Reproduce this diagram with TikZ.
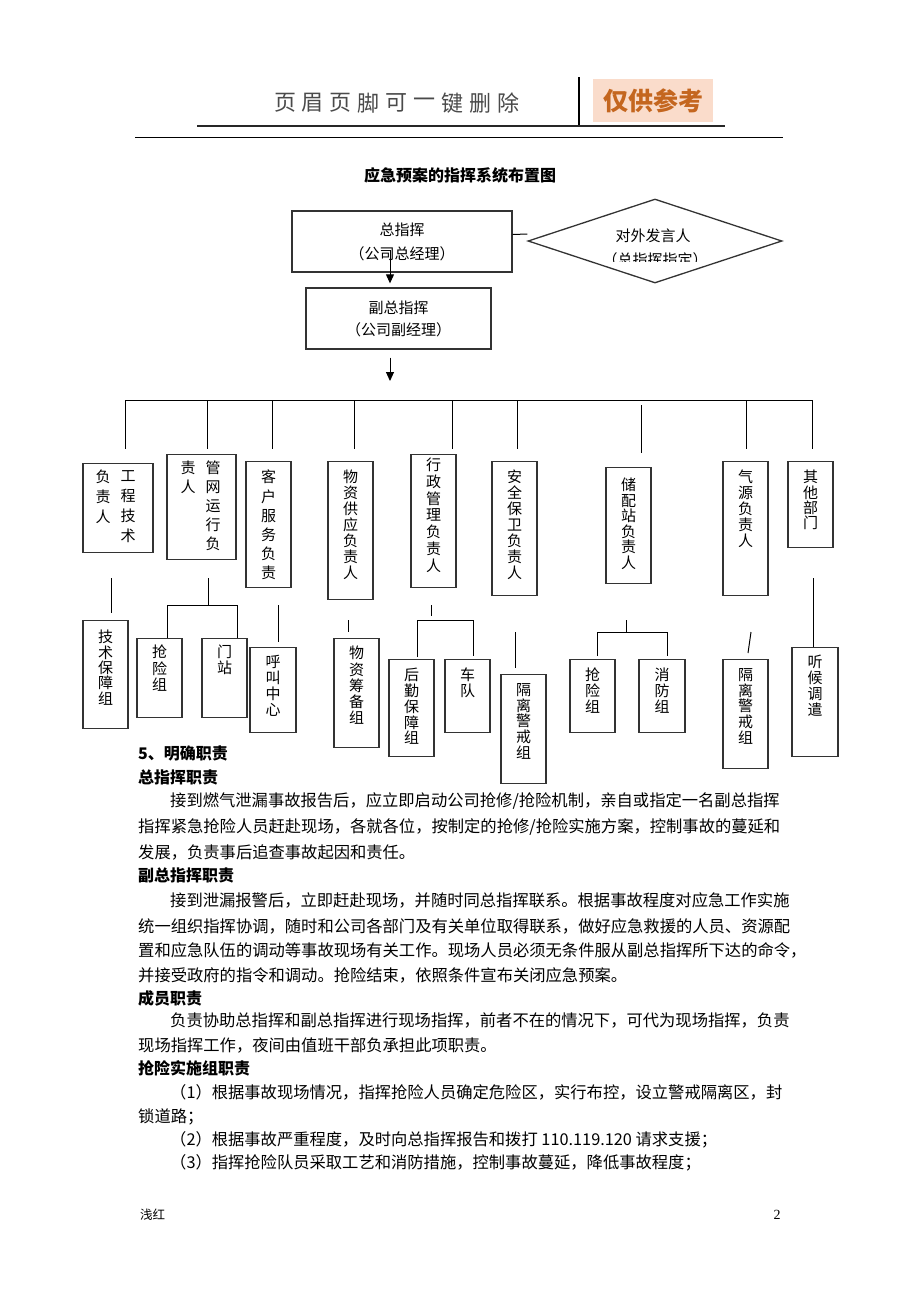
\documentclass[tikz,border=0pt]{standalone}
\usepackage{fontspec}
\setmainfont{Liberation Serif}
\newfontfamily\cjk{Noto Sans CJK SC}
\usetikzlibrary{positioning,shapes.geometric,arrows.meta}
\definecolor{tagbg}{HTML}{FADCCB}
\definecolor{tagfg}{HTML}{C4661F}
\definecolor{hdrgray}{HTML}{4A4A4A}

\begin{document}
\begin{tikzpicture}[x=1pt,y=-1pt,
	box/.style={draw=black!80, line width=1.3pt, inner sep=0pt, minimum width=45pt, anchor=north},
	vtxt/.style={anchor=north, inner sep=0pt, align=center, font=\cjk\fontsize{15}{#1}\selectfont},
	vtxt/.default=16,
	mainbox/.style={draw=black!80, line width=1.3pt, align=center, font=\cjk\fontsize{15}{#1}\selectfont},
	mainbox/.default=24,
	para/.style={anchor=west, inner sep=0pt, font=\cjk\fontsize{16.3}{16.3}\selectfont},
	head/.style={para, font=\cjk\bfseries\fontsize{16}{16}\selectfont},
	conn/.style={line width=1pt},
	arr/.style={line width=1pt, -{Triangle[width=8pt,length=9pt]}}]
	
	\fill[white] (0,0) rectangle (920,1302);
	\useasboundingbox (0,0) rectangle (920,1302);
	
	% page header
	\foreach \c [count=\i from 0] in {页,眉,页,脚,可,一,键,删,除}
	\node[text=hdrgray, font=\cjk\fontsize{22}{22}\selectfont, inner sep=0pt] (hd\i) at (285+27.9*\i,103) {\c};
	\draw[line width=2pt] (579,77) -- (579,125);
	\draw[line width=2.5pt, black!85] (197,126) -- (725,126);
	\node[fill=tagbg, minimum width=120pt, minimum height=43pt, inner sep=0pt,
	text=tagfg, font=\cjk\bfseries\fontsize{25}{25}\selectfont] (tag) at (653,100.5) {仅供参考};
	\draw[line width=0.8pt] (135,137.5) -- (783,137.5);
	
	\node[font=\cjk\bfseries\fontsize{16}{16}\selectfont, inner sep=0pt] (ttl) at (460,175) {应急预案的指挥系统布置图};
	
	% command
	\node[mainbox, minimum width=220pt, minimum height=61pt] (top) at (402,241.5) {总指挥\\（公司总经理）};
	\node[draw=black!80, line width=1.3pt, diamond, minimum width=254pt, minimum height=84pt, inner sep=0pt] (spk) at (655,241) {};
	\node[font=\cjk\fontsize{15}{15}\selectfont, inner sep=0pt] (spk-a) at (653,236) {对外发言人};
	\begin{scope}
		\clip (560,225) rectangle (750,261);
		\node[font=\cjk\fontsize{15}{15}\selectfont, inner sep=0pt] (spk-b) at (655,260) {（总指挥指定）};
	\end{scope}
	\draw[conn] ([yshift=7pt]top.east) -- ([yshift=7pt]spk.west);
	
	\node[mainbox=22, minimum width=185pt, minimum height=61pt] (dep) at (398.5,318.5) {副总指挥\\（公司副经理）};
	\draw[arr, shorten >=4pt] (390,250) -- (390,250 |- dep.north);
	\coordinate (hub) at (390,381);
	\draw[arr] (hub |- dep.south) ++(0,8) -- (hub);
	
	% bus
	\coordinate (busL) at (125,400);
	\coordinate (busR) at (812,400);
	\draw[conn] (busL) -- (busR);
	\foreach \x in {125,207,272,354,452,517,746,812}
	\draw[conn] (\x,400) -- (\x,449);
	\draw[conn] (641,405) -- (641,453);
	
	% first row
	\node[box, minimum width=70pt, minimum height=89pt] (gc) at (118,463) {};
	\node[vtxt=20] (gc-r) at ([xshift=10pt, yshift=-7pt]gc.north) {工\\程\\技\\术};
	\node[vtxt=20] (gc-l) at ([xshift=-15pt, yshift=-7pt]gc.north) {负\\责\\人};
	
	\node[box, minimum width=69pt, minimum height=105pt] (gw) at (201.5,454) {};
	\node[vtxt=19] (gw-r) at ([xshift=11.5pt, yshift=-7pt]gw.north) {管\\网\\运\\行\\负};
	\node[vtxt=19] (gw-l) at ([xshift=-13.5pt, yshift=-7pt]gw.north) {责\\人};
	
	\node[box, minimum height=126pt] (kf) at (268.5,461) {};
	\node[vtxt=19.2, below=9pt of kf.north] (kf-t) {客\\户\\服\\务\\负\\责};
	
	\node[box, minimum height=138pt] (wz) at (350.5,461) {};
	\node[vtxt, below=9pt of wz.north] (wz-t) {物\\资\\供\\应\\负\\责\\人};
	
	\node[box, minimum height=133pt] (xz) at (433.5,454) {};
	\node[vtxt=16.7, below=4pt of xz.north] (xz-t) {行\\政\\管\\理\\负\\责\\人};
	
	\node[box, minimum height=134pt] (aq) at (514.5,461) {};
	\node[vtxt, below=9pt of aq.north] (aq-t) {安\\全\\保\\卫\\负\\责\\人};
	
	\node[box, minimum height=116pt] (cp) at (628.5,467) {};
	\node[vtxt=15.5, below=11pt of cp.north] (cp-t) {储\\配\\站\\负\\责\\人};
	
	\node[box, minimum height=134pt] (qy) at (745.5,461) {};
	\node[vtxt=15.8, below=9pt of qy.north] (qy-t) {气\\源\\负\\责\\人};
	
	\node[box, minimum height=86pt] (qt) at (810.5,461) {};
	\node[vtxt=15.4, below=9pt of qt.north] (qt-t) {其\\他\\部\\门};
	
	% second row
	\node[box, minimum height=108pt] (js) at (105.5,620) {};
	\node[vtxt=15.3, below=10pt of js.north] (js-t) {技\\术\\保\\障\\组};
	
	\node[box, minimum height=79pt] (qx1) at (159.5,638) {};
	\node[vtxt=16.5, below=7pt of qx1.north] (qx1-t) {抢\\险\\组};
	
	\node[box, minimum height=79pt] (mz) at (224.5,638) {};
	\node[vtxt, below=7pt of mz.north] (mz-t) {门\\站};
	
	\node[box, minimum width=46pt, minimum height=85pt] (hj) at (273,647) {};
	\node[vtxt, below=8pt of hj.north] (hj-t) {呼\\叫\\中\\心};
	
	\node[box, minimum height=109pt] (wc) at (356.5,638) {};
	\node[vtxt=16.2, below=8pt of wc.north] (wc-t) {物\\资\\筹\\备\\组};
	
	\node[box, minimum height=97pt] (hq) at (411.5,659) {};
	\node[vtxt=15.8, below=9pt of hq.north] (hq-t) {后\\勤\\保\\障\\组};
	
	\node[box, minimum height=73pt] (cd) at (467.5,659) {};
	\node[vtxt, below=9pt of cd.north] (cd-t) {车\\队};
	
	\node[box, minimum height=109pt] (gl1) at (523.5,674) {};
	\node[vtxt=15.8, below=9pt of gl1.north] (gl1-t) {隔\\离\\警\\戒\\组};
	
	\node[box, minimum height=73pt] (qx2) at (592.5,659) {};
	\node[vtxt, below=9pt of qx2.north] (qx2-t) {抢\\险\\组};
	
	\node[box, minimum width=46pt, minimum height=73pt] (xf) at (662,659) {};
	\node[vtxt, below=9pt of xf.north] (xf-t) {消\\防\\组};
	
	\node[box, minimum height=109pt] (gl2) at (745.5,659) {};
	\node[vtxt=15.8, below=9pt of gl2.north] (gl2-t) {隔\\离\\警\\戒\\组};
	
	\node[box, minimum width=46pt, minimum height=109pt] (th) at (815,647) {};
	\node[vtxt, below=8pt of th.north] (th-t) {听\\候\\调\\遣};
	
	% second row links
	\draw[conn] (111,578) -- (111,613);
	\draw[conn] (208,578) -- (208,605);
	\draw[conn] (167,605 |- qx1.north) -- (167,605) -- (237,605) -- (237,605 |- mz.north);
	\draw[conn] (278,605) -- (278,642);
	\draw[conn] (348,620) -- (348,632);
	\draw[conn] (431,605) -- (431,616);
	\draw[conn] (417,657) -- (417,620) -- (473,620) -- (473,656);
	\draw[conn] (515,632) -- (515,668);
	\draw[conn] (626,620) -- (626,632);
	\draw[conn] (597,656) -- (597,632) -- (667,632) -- (667,656);
	\draw[conn] (751,632) -- (748,653);
	\draw[conn] (813,578) -- (813,578 |- th.north);
	
	% duties text
	\node[head] (s5) at (138,753) {5、明确职责};
	\node[head] (h1) at (138,777) {总指挥职责};
	\node[para] (p1) at (170,801) {接到燃气泄漏事故报告后，应立即启动公司抢修/抢险机制，亲自或指定一名副总指挥};
	\node[para] (p2) at (138,827) {指挥紧急抢险人员赶赴现场，各就各位，按制定的抢修/抢险实施方案，控制事故的蔓延和};
	\node[para] (p3) at (138,852) {发展，负责事后追查事故起因和责任。};
	\node[head] (h2) at (138,875) {副总指挥职责};
	\node[para] (p4) at (170,900) {接到泄漏报警后，立即赶赴现场，并随时同总指挥联系。根据事故程度对应急工作实施};
	\node[para] (p5) at (138,926) {统一组织指挥协调，随时和公司各部门及有关单位取得联系，做好应急救援的人员、资源配};
	\node[para] (p6) at (138,950) {置和应急队伍的调动等事故现场有关工作。现场人员必须无条件服从副总指挥所下达的命令，};
	\node[para] (p7) at (138,975) {并接受政府的指令和调动。抢险结束，依照条件宣布关闭应急预案。};
	\node[head] (h3) at (138,998) {成员职责};
	\node[para] (p8) at (170,1020) {负责协助总指挥和副总指挥进行现场指挥，前者不在的情况下，可代为现场指挥，负责};
	\node[para] (p9) at (138,1045) {现场指挥工作，夜间由值班干部负承担此项职责。};
	\node[head] (h4) at (138,1068) {抢险实施组职责};
	\node[para] (p10) at (170,1092) {（1）根据事故现场情况，指挥抢险人员确定危险区，实行布控，设立警戒隔离区，封};
	\node[para] (p11) at (138,1117) {锁道路；};
	\node[para] (p12) at (170,1140) {（2）根据事故严重程度，及时向总指挥报告和拨打 110.119.120 请求支援；};
	\node[para] (p13) at (170,1163) {（3）指挥抢险队员采取工艺和消防措施，控制事故蔓延，降低事故程度；};
	
	% page footer
	\node[anchor=west, inner sep=0pt, font=\cjk\fontsize{12.5}{12.5}\selectfont] (ft) at (140,1215) {浅红};
	\node[inner sep=0pt, font=\fontsize{14}{14}\selectfont] (pg) at (777,1215) {2};
	
\end{tikzpicture}
\end{document}
